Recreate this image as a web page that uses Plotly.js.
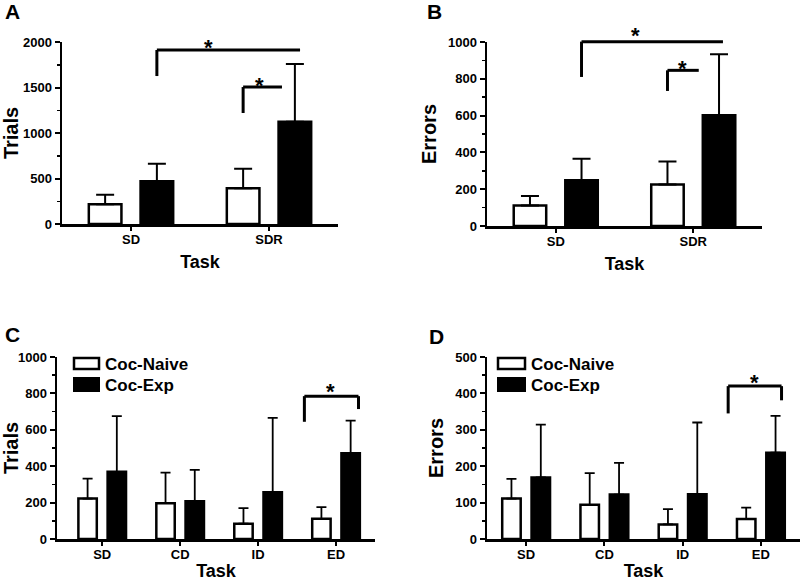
<!DOCTYPE html>
<html><head><meta charset="utf-8">
<script src="https://cdn.plot.ly/plotly-3.0.1.min.js"></script>
<style>html,body{margin:0;padding:0;background:#fff}#chart{width:800px;height:581px}</style>
</head><body><div id="chart"></div>
<script>
// ---- data ----
const tasksAB = ['SD', 'SDR'];
const tasksCD = ['SD', 'CD', 'ID', 'ED'];
const seriesNames = ['Coc-Naive', 'Coc-Exp'];

const trialsNaiveAB = [216, 392];
const trialsNaiveABErr = [106, 216];
const trialsExpAB = [469, 1124];
const trialsExpABErr = [194, 634];

const errorsNaiveAB = [112, 225];
const errorsNaiveABErr = [51, 125];
const errorsExpAB = [248, 602];
const errorsExpABErr = [118, 331];

const trialsNaiveCD = [222, 197, 84, 111];
const trialsNaiveCDErr = [110, 168, 86, 64];
const trialsExpCD = [369, 208, 257, 471];
const trialsExpCDErr = [306, 172, 409, 179];

const errorsNaiveCD = [111, 94, 40, 55];
const errorsNaiveCDErr = [54, 87, 42, 31];
const errorsExpCD = [169, 122, 123, 237];
const errorsExpCDErr = [145, 87, 197, 101];

// ---- drawing ----
const FONT = 'Arial, "Liberation Sans", Helvetica, sans-serif';
const W = 800, H = 581;
const PX = p => p / W;
const PY = p => 1 - p / H;

function barTrace(x, y, err, naive, xa, ya, capw, th) {
  return {
    type: 'bar', x: x, y: y, name: naive ? seriesNames[0] : seriesNames[1],
    xaxis: xa, yaxis: ya,
    marker: {color: naive ? '#ffffff' : '#000000', line: {color: '#000000', width: 2.5}},
    error_y: {type: 'data', symmetric: false, array: err, arrayminus: err.map(() => 0),
      color: '#000000', thickness: th, width: capw},
    showlegend: false, hoverinfo: 'skip'
  };
}

const data = [
  barTrace(tasksAB, trialsNaiveAB, trialsNaiveABErr, true, 'x', 'y', 9, 2),
  barTrace(tasksAB, trialsExpAB, trialsExpABErr, false, 'x', 'y', 9, 2),
  barTrace(tasksAB, errorsNaiveAB, errorsNaiveABErr, true, 'x2', 'y2', 9, 2),
  barTrace(tasksAB, errorsExpAB, errorsExpABErr, false, 'x2', 'y2', 9, 2),
  barTrace(tasksCD, trialsNaiveCD, trialsNaiveCDErr, true, 'x3', 'y3', 5, 1.8),
  barTrace(tasksCD, trialsExpCD, trialsExpCDErr, false, 'x3', 'y3', 5, 1.8),
  barTrace(tasksCD, errorsNaiveCD, errorsNaiveCDErr, true, 'x4', 'y4', 5, 1.8),
  barTrace(tasksCD, errorsExpCD, errorsExpCDErr, false, 'x4', 'y4', 5, 1.8)
];

const tickFont = {family: FONT, size: 13, color: '#000', weight: 'bold'};
function xAxis(domain, yref, range, standoff) {
  return {
    domain: domain, anchor: yref, type: 'category', range: range,
    showline: true, linecolor: '#000', linewidth: 2.5, mirror: false,
    ticks: 'outside', ticklen: 4, tickwidth: 2, tickcolor: '#000', ticklabelstandoff: -2,
    tickfont: tickFont, showgrid: false, zeroline: false, fixedrange: true,
    title: {text: 'Task', font: {family: FONT, size: 18, color: '#000', weight: 'bold'}, standoff: standoff}
  };
}
function yAxis(domain, xref, max, dtick, minor, title, standoff) {
  return {
    domain: domain, anchor: xref, range: [0, max], dtick: dtick, tick0: 0,
    showline: true, linecolor: '#000', linewidth: 2.5,
    ticks: 'outside', ticklen: 5, tickwidth: 2, tickcolor: '#000',
    minor: {dtick: minor, tick0: 0, ticks: 'outside', ticklen: 3, tickwidth: 1.5, tickcolor: '#000', showgrid: false},
    tickfont: tickFont, showgrid: false, zeroline: false, fixedrange: true,
    title: {text: title, font: {family: FONT, size: 20, color: '#000', weight: 'bold'}, standoff: standoff}
  };
}

const axes = {
  xaxis: xAxis([PX(62), PX(338)], 'y', [-0.5, 1.5], 10),
  yaxis: yAxis([PY(224), PY(42)], 'x', 2000, 500, 250, 'Trials', 6),
  xaxis2: xAxis([PX(487), PX(762)], 'y2', [-0.5, 1.5], 10),
  yaxis2: yAxis([PY(226), PY(42)], 'x2', 1000, 200, 100, 'Errors', 6),
  xaxis3: xAxis([PX(57), PX(375)], 'y3', [-0.58, 3.5], 10),
  yaxis3: yAxis([PY(539), PY(357)], 'x3', 1000, 200, 100, 'Trials', 6),
  xaxis4: xAxis([PX(487), PX(800)], 'y4', [-0.5, 3.5], 10),
  yaxis4: yAxis([PY(539), PY(357)], 'x4', 500, 100, 50, 'Errors', 6)
};
// map a value on an axis to paper coordinates (so marks above the range are not clipped)
function toPaper(ax, v) {
  const a = axes[ax];
  return a.domain[0] + (v - a.range[0]) / (a.range[1] - a.range[0]) * (a.domain[1] - a.domain[0]);
}

const shapes = [];
const annotations = [];
function seg(xa, ya, x0, y0, x1, y1) {
  shapes.push({type: 'line', xref: 'paper', yref: 'paper',
    x0: toPaper(xa, x0), y0: toPaper(ya, y0), x1: toPaper(xa, x1), y1: toPaper(ya, y1),
    line: {color: '#000', width: 3}});
}
function bracket(xa, ya, xl, xrt, y, yl, yrt, sx, sy) {
  seg(xa, ya, xl, yl, xl, y);
  seg(xa, ya, xl, y, xrt, y);
  if (yrt !== null) seg(xa, ya, xrt, y, xrt, yrt);
  annotations.push({xref: 'paper', yref: 'paper', x: toPaper(xa, sx), y: toPaper(ya, sy),
    text: '*', showarrow: false, xanchor: 'center', yanchor: 'middle', yshift: -5,
    font: {family: FONT, size: 22, color: '#000', weight: 'bold'}});
}
// significance brackets
bracket('xaxis', 'yaxis', 0.1875, 1.225, 1912, 1626, null, 0.565, 2000);
bracket('xaxis', 'yaxis', 0.8125, 1.094, 1505, 1220, null, 0.928, 1582);
bracket('xaxis2', 'yaxis2', 0.1875, 1.216, 1002, 810, null, 0.577, 1064);
bracket('xaxis2', 'yaxis2', 0.8125, 1.04, 846, 734, null, 0.919, 884);
bracket('xaxis3', 'yaxis3', 2.594, 3.288, 785, 644, 714, 2.925, 836);
bracket('xaxis4', 'yaxis4', 2.582, 3.264, 420, 345, 381, 2.919, 443);

// panel letters
[['A', 3, 11], ['B', 425, 11], ['C', 3, 334], ['D', 427, 337]].forEach(p => {
  annotations.push({xref: 'paper', yref: 'paper', x: PX(p[1]), y: PY(p[2]), text: p[0],
    showarrow: false, xanchor: 'left', yanchor: 'middle',
    font: {family: FONT, size: 21, color: '#000', weight: 'bold'}});
});

// custom legends for panels C and D
function legend(x0, x1, yTop) {
  shapes.push({type: 'rect', xref: 'paper', yref: 'paper', x0: PX(x0 + 1), x1: PX(x1 - 1),
    y0: PY(yTop + 12), y1: PY(yTop + 1), fillcolor: '#fff', line: {color: '#000', width: 2.5}});
  shapes.push({type: 'rect', xref: 'paper', yref: 'paper', x0: PX(x0), x1: PX(x1),
    y0: PY(yTop + 35), y1: PY(yTop + 20), fillcolor: '#000', line: {color: '#000', width: 0}});
  [[seriesNames[0], yTop + 7], [seriesNames[1], yTop + 28]].forEach(t => {
    annotations.push({xref: 'paper', yref: 'paper', x: PX(x1 + 3), y: PY(t[1]), text: t[0],
      showarrow: false, xanchor: 'left', yanchor: 'middle',
      font: {family: FONT, size: 17, color: '#000', weight: 'bold'}});
  });
}
legend(73, 100, 357);
legend(497, 526, 357);

const layout = Object.assign({
  width: W, height: H, margin: {l: 0, r: 0, t: 0, b: 0},
  paper_bgcolor: '#fff', plot_bgcolor: '#fff',
  barmode: 'group', bargap: 0.25, bargroupgap: 0.37,
  showlegend: false,
  font: {family: FONT, color: '#000'},
  shapes: shapes,
  annotations: annotations
}, axes);

Plotly.newPlot('chart', data, layout, {displayModeBar: false, staticPlot: true});
</script>
</body></html>
